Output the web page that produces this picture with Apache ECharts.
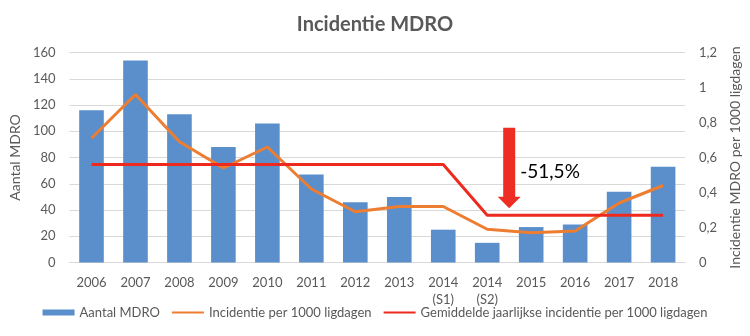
<!DOCTYPE html>
<html>
<head>
<meta charset="utf-8">
<script src="https://cdn.jsdelivr.net/npm/echarts@6/dist/echarts.min.js"></script>
<style>html,body{margin:0;padding:0;background:#fff}#c{width:750px;height:336px}</style>
</head>
<body>
<div id="c"></div>
<script>
const categories = ['2006','2007','2008','2009','2010','2011','2012','2013','2014\n(S1)','2014\n(S2)','2015','2016','2017','2018'];
const aantalMDRO = [116,154,113,88,106,67,46,50,25,15,27,29,54,73];
const incidentie = [0.71,0.96,0.69,0.54,0.66,0.42,0.29,0.32,0.32,0.19,0.17,0.18,0.34,0.44];
const gemiddelde = [0.56,0.56,0.56,0.56,0.56,0.56,0.56,0.56,0.56,0.27,0.27,0.27,0.27,0.27];
const leftTicks = {min:0, max:160, interval:20};
const rightTicks = {min:0, max:1.2, interval:0.2};
const annotationText = '-51,5%';
const arrowBetween = [9, 10];
const arrowFrom = 0.77, arrowTo = 0.31, labelAt = 0.52;

const FONT = 'Lato';
const GREY = '#595959';
const chart = echarts.init(document.getElementById('c'));
chart.setOption({
  animation:false,
  textStyle:{fontFamily:FONT},
  title:{text:'Incidentie MDRO', left:'center', top:10,
    textStyle:{fontFamily:FONT, fontSize:20, fontWeight:'bold', color:GREY}},
  grid:{left:67, right:62, top:52.5, bottom:73.5},
  legend:{
    bottom:12, left:'center', itemGap:11, itemWidth:32, itemHeight:6,
    textStyle:{fontFamily:FONT, fontSize:13, color:GREY},
    data:[
      {name:'Aantal MDRO', icon:'rect'},
      {name:'Incidentie per 1000 ligdagen', itemStyle:{opacity:0}},
      {name:'Gemiddelde jaarlijkse incidentie per 1000 ligdagen', itemStyle:{opacity:0}}
    ]
  },
  xAxis:{type:'category', data:categories,
    axisLine:{lineStyle:{color:'#D9D9D9'}}, axisTick:{show:false},
    axisLabel:{interval:0, color:GREY, fontSize:13, margin:12, lineHeight:17}},
  yAxis:[
    {type:'value', min:leftTicks.min, max:leftTicks.max, interval:leftTicks.interval,
     name:'Aantal MDRO', nameLocation:'middle', nameRotate:90, nameGap:44,
     nameTextStyle:{fontFamily:FONT, fontSize:14, color:GREY},
     axisLabel:{color:GREY, fontSize:13, margin:14},
     splitLine:{lineStyle:{color:'#D9D9D9'}}},
    {type:'value', min:rightTicks.min, max:rightTicks.max, interval:rightTicks.interval,
     name:'Incidentie MDRO per 1000 ligdagen', nameLocation:'middle', nameRotate:90, nameGap:38,
     nameTextStyle:{fontFamily:FONT, fontSize:14, color:GREY},
     axisLabel:{color:GREY, fontSize:13, margin:14,
       formatter:v=>String(+v.toFixed(1)).replace('.',',')},
     splitLine:{show:false}}
  ],
  series:[
    {name:'Aantal MDRO', type:'bar', data:aantalMDRO, barWidth:'56%', itemStyle:{color:'#5B8FCB'}},
    {name:'Incidentie per 1000 ligdagen', type:'line', yAxisIndex:1, data:incidentie,
     symbol:'none', lineStyle:{color:'#ED7D31', width:3}, itemStyle:{color:'#ED7D31'}},
    {name:'Gemiddelde jaarlijkse incidentie per 1000 ligdagen', type:'line', yAxisIndex:1, data:gemiddelde,
     symbol:'none', lineStyle:{color:'#EE2A1E', width:3}, itemStyle:{color:'#EE2A1E'}}
  ]
});

const pa = chart.convertToPixel({xAxisIndex:0, yAxisIndex:1}, [arrowBetween[0], arrowFrom]);
const pb = chart.convertToPixel({xAxisIndex:0, yAxisIndex:1}, [arrowBetween[1], arrowTo]);
const pl = chart.convertToPixel({xAxisIndex:0, yAxisIndex:1}, [arrowBetween[1], labelAt]);
const cx = (pa[0] + pb[0]) / 2;
const yTop = pa[1], yTip = pb[1];
const sw = 6, hw = 11.5, hh = 11.5;
chart.setOption({
  graphic:[
    {type:'polygon', z:100, shape:{points:[
      [cx-sw,yTop],[cx+sw,yTop],[cx+sw,yTip-hh],[cx+hw,yTip-hh],[cx,yTip],[cx-hw,yTip-hh],[cx-sw,yTip-hh]]},
     style:{fill:'#EE2D24'}},
    {type:'text', z:100, x:cx+11, y:pl[1], style:{text:annotationText, fontFamily:FONT, fontSize:19,
      fill:'#000', textVerticalAlign:'middle'}}
  ]
});
</script>
</body>
</html>
